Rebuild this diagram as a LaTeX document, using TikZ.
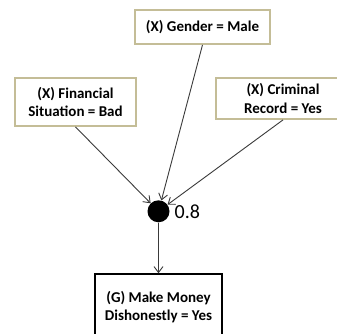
\documentclass[tikz,border=0pt]{standalone}
\usepackage{fontspec}
\setmainfont{Carlito}
\usetikzlibrary{arrows.meta}
\definecolor{tanline}{HTML}{C4BD97}
\definecolor{wire}{HTML}{3A3A3A}
\tikzset{
  factbox/.style={draw=tanline, line width=1.8pt, fill=white, align=center,
    font=\fontsize{15}{18.3}\selectfont\bfseries, inner sep=0pt},
  goalbox/.style={draw=black, line width=1.4pt, fill=white, align=center,
    font=\fontsize{15}{18.3}\selectfont\bfseries, inner sep=0pt},
  link/.style={draw=wire, line width=0.9pt, -{Straight Barb[length=6pt,width=9pt]}},
  junction/.style={circle, fill=black, minimum size=22pt, inner sep=0pt}
}
\begin{document}
\begin{tikzpicture}[x=1pt,y=-1pt]
  \useasboundingbox (0,0) rectangle (337,334);
  \clip (0,0) rectangle (337,334);
  \fill[white] (0,0) rectangle (337,334);

  % premises
  \node[factbox, minimum width=135pt, minimum height=34pt] (gender) at (202.5,27) {(X) Gender = Male};
  \node[factbox, minimum width=121pt, minimum height=48pt] (finance) at (75.5,102) {(X) Financial\\Situation = Bad};
  \node[factbox, minimum width=134pt, minimum height=41pt] (crime) at (283,98.5) {(X) Criminal\\Record = Yes};

  % combining junction with its weight
  \node[junction] (dot) at (158.5,211.3) {};
  \node[anchor=west, inner sep=0pt, font=\fontsize{20}{24}\selectfont] (weight) at (174.5,211.5) {0.8};

  % conclusion
  \node[goalbox, minimum width=127pt, minimum height=66pt] (goal) at (158.5,307) {(G) Make Money\\Dishonestly = Yes};

  % connectors
  \draw[link] (finance.south) -- (dot);
  \draw[link] (gender.south) -- (dot);
  \draw[link] (crime.south) -- (dot);
  \draw[link] (dot) -- (goal.north);
\end{tikzpicture}
\end{document}
